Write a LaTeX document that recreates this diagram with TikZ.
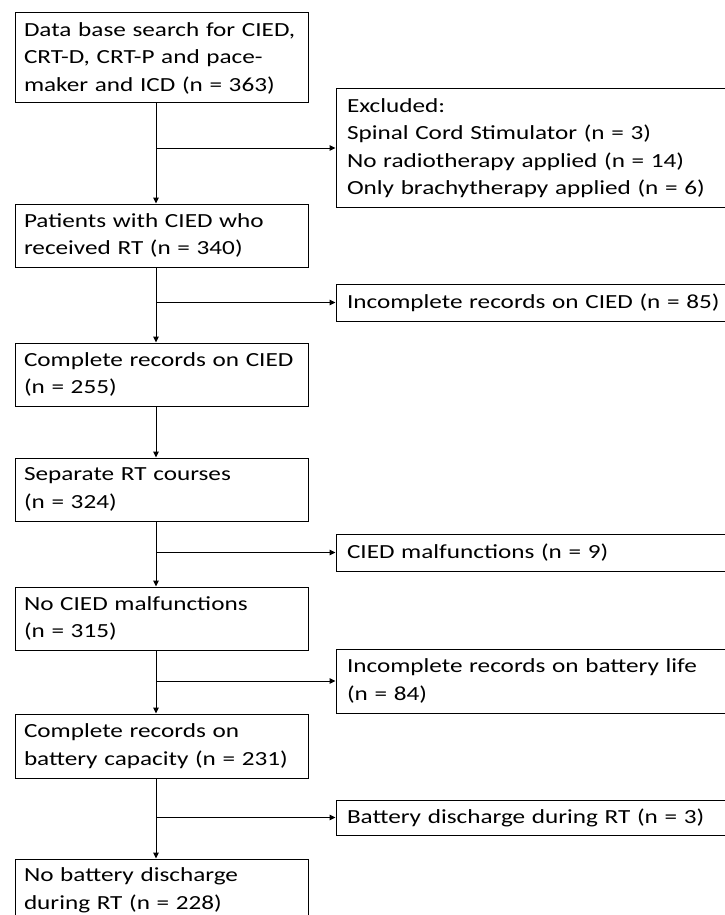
\documentclass[tikz,border=0pt]{standalone}
\usepackage{fontspec}
\setmainfont[FakeStretch=1.26]{Carlito}
\usetikzlibrary{arrows.meta}
\begin{document}
\begin{tikzpicture}[x=1pt,y=-1pt,
  box/.style={draw=black, line width=1pt, inner ysep=0pt,
    align=left, font=\fontsize{20}{27.5}\selectfont, anchor=center},
  lbox/.style={box, inner xsep=9pt, minimum width=293pt, text width=275pt},
  rbox/.style={box, inner xsep=11pt, minimum width=402pt, text width=380pt},
  arr/.style={draw=black, line width=1pt, -{Triangle[length=6pt,width=5.5pt]}}]
\useasboundingbox (0,0) rectangle (724,915);
\coordinate (spine) at (156,0);
% left column
\node[lbox, minimum height=90pt] (b1) at (161.5,58) {Data base search for CIED,\\CRT-D, CRT-P and pace-\\maker and ICD (n = 363)};
\node[lbox, minimum height=63pt] (b2) at (161.5,235.5) {Patients with CIED who\\received RT (n = 340)};
\node[lbox, minimum height=63pt] (b3) at (161.5,374.5) {Complete records on CIED\\(n = 255)};
\node[lbox, minimum height=63pt] (b4) at (161.5,489.5) {Separate RT courses\\(n = 324)};
\node[lbox, minimum height=63pt] (b5) at (161.5,618.5) {No CIED malfunctions\\(n = 315)};
\node[lbox, minimum height=64pt] (b6) at (161.5,746) {Complete records on\\battery capacity (n = 231)};
\node[lbox, minimum height=63pt] (b7) at (161.5,890.5) {No battery discharge\\during RT (n = 228)};
% right column
\node[rbox, minimum height=118pt] (e1) at (537,148) {Excluded:\\Spinal Cord Stimulator (n = 3)\\No radiotherapy applied (n = 14)\\Only brachytherapy applied (n = 6)};
\node[rbox, minimum height=37pt] (e2) at (537,302.5) {Incomplete records on CIED (n = 85)};
\node[rbox, minimum height=37pt] (e3) at (537,552.5) {CIED malfunctions (n = 9)};
\node[rbox, minimum height=64pt] (e4) at (537,681) {Incomplete records on battery life\\(n = 84)};
\node[rbox, minimum height=35pt] (e5) at (537,817.5) {Battery discharge during RT (n = 3)};
% vertical connectors
\draw[arr] (b1.south -| spine) -- (b2.north -| spine);
\draw[arr] (b2.south -| spine) -- (b3.north -| spine);
\draw[arr] (b3.south -| spine) -- (b4.north -| spine);
\draw[arr] (b4.south -| spine) -- (b5.north -| spine);
\draw[arr] (b5.south -| spine) -- (b6.north -| spine);
\draw[arr] (b6.south -| spine) -- (b7.north -| spine);
% branches
\draw[arr] (spine |- e1.west) -- (e1.west);
\draw[arr] (spine |- e2.west) -- (e2.west);
\draw[arr] (spine |- e3.west) -- (e3.west);
\draw[arr] (spine |- e4.west) -- (e4.west);
\draw[arr] (spine |- e5.west) -- (e5.west);
\end{tikzpicture}
\end{document}
